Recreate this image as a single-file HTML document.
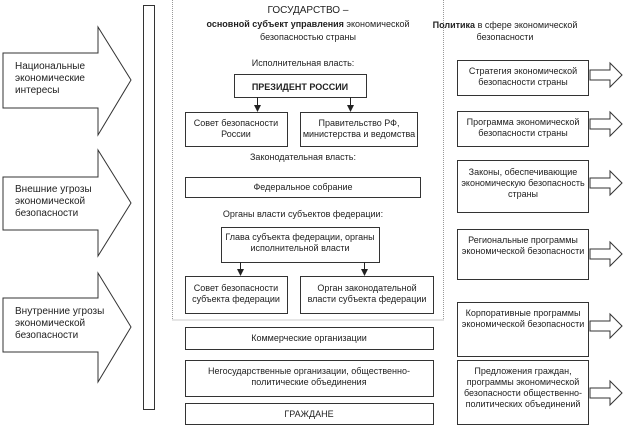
<!DOCTYPE html>
<html><head><meta charset="utf-8"><style>
body{margin:0;background:#fff;width:623px;height:425px;overflow:hidden}
svg{display:block}
text{font-family:"Liberation Sans","DejaVu Sans",sans-serif;font-size:9px;fill:#222}
.l{font-size:10px}
.b{fill:#fff;stroke:#333;stroke-width:1}
</style></head><body>
<svg width="623" height="425" viewBox="0 0 623 425">
<polygon class="b" points="3,53 98,53 98,27 131,80 98,135 98,108 3,108"/>
<polygon class="b" points="3,177 98,177 98,150 131,203 98,256 98,230 3,230"/>
<polygon class="b" points="3,298 98,298 98,273 131,327 98,382 98,352 3,352"/>
<text class="l" x="15" y="69">Национальные</text><text class="l" x="15" y="81">экономические</text><text class="l" x="15" y="93">интересы</text>
<text class="l" x="15" y="192">Внешние угрозы</text><text class="l" x="15" y="204">экономической</text><text class="l" x="15" y="216">безопасности</text>
<text class="l" x="15" y="314">Внутренние угрозы</text><text class="l" x="15" y="326">экономической</text><text class="l" x="15" y="338">безопасности</text>
<rect class="b" x="143.5" y="5.5" width="11" height="404"/>
<rect x="172.5" y="-1" width="271" height="321" fill="none" stroke="#999" stroke-dasharray="1,1"/>
<text class="l" x="308" y="13" text-anchor="middle">ГОСУДАРСТВО –</text>
<text x="308" y="27" text-anchor="middle"><tspan font-weight="bold">основной субъект управления</tspan> экономической</text>
<text x="308" y="40" text-anchor="middle">безопасностью страны</text>
<text x="303" y="66" text-anchor="middle">Исполнительная власть:</text>
<rect class="b" x="234.5" y="74.5" width="132" height="23"/>
<text x="300" y="90" text-anchor="middle" font-weight="bold" font-size="10">ПРЕЗИДЕНТ РОССИИ</text>
<line x1="257.5" y1="97" x2="257.5" y2="106" stroke="#222"/><polygon points="254,105 261,105 257.5,112" fill="#222"/>
<line x1="350.5" y1="97" x2="350.5" y2="106" stroke="#222"/><polygon points="347,105 354,105 350.5,112" fill="#222"/>
<rect class="b" x="185.5" y="112.5" width="102" height="34"/>
<text x="236" y="126" text-anchor="middle">Совет безопасности</text><text x="236" y="137" text-anchor="middle">России</text>
<rect class="b" x="300.5" y="112.5" width="117" height="34"/>
<text x="359" y="126" text-anchor="middle">Правительство РФ,</text><text x="359" y="137" text-anchor="middle">министерства и ведомства</text>
<text x="303" y="160" text-anchor="middle">Законодательная власть:</text>
<rect class="b" x="185.5" y="177.5" width="235" height="20"/>
<text x="303" y="190" text-anchor="middle">Федеральное собрание</text>
<text x="303" y="217" text-anchor="middle">Органы власти субъектов федерации:</text>
<rect class="b" x="221.5" y="227.5" width="158" height="35"/>
<text x="300" y="240" text-anchor="middle">Глава субъекта федерации, органы</text><text x="300" y="251" text-anchor="middle">исполнительной власти</text>
<line x1="240.5" y1="262" x2="240.5" y2="270" stroke="#222"/><polygon points="237,269 244,269 240.5,276" fill="#222"/>
<line x1="364.5" y1="262" x2="364.5" y2="270" stroke="#222"/><polygon points="361,269 368,269 364.5,276" fill="#222"/>
<rect class="b" x="185.5" y="276.5" width="102" height="37"/>
<text x="236" y="291" text-anchor="middle">Совет безопасности</text><text x="236" y="302" text-anchor="middle">субъекта федерации</text>
<rect class="b" x="300.5" y="276.5" width="133" height="37"/>
<text x="367" y="291" text-anchor="middle">Орган законодательной</text><text x="367" y="302" text-anchor="middle">власти субъекта федерации</text>
<rect class="b" x="185.5" y="327.5" width="248" height="22"/>
<text x="309" y="341" text-anchor="middle">Коммерческие организации</text>
<rect class="b" x="185.5" y="360.5" width="248" height="36"/>
<text x="309" y="374" text-anchor="middle">Негосударственные организации, общественно-</text><text x="309" y="385" text-anchor="middle">политические объединения</text>
<rect class="b" x="185.5" y="403.5" width="248" height="21"/>
<text x="309" y="417" text-anchor="middle">ГРАЖДАНЕ</text>
<text x="505" y="28" text-anchor="middle"><tspan font-weight="bold">Политика</tspan> в сфере экономической</text>
<text x="505" y="40" text-anchor="middle">безопасности</text>
<rect class="b" x="457.5" y="60.5" width="131" height="35"/>
<text x="523" y="74" text-anchor="middle">Стратегия экономической</text><text x="523" y="85" text-anchor="middle">безопасности страны</text>
<rect class="b" x="457.5" y="111.5" width="131" height="35"/>
<text x="523" y="125" text-anchor="middle">Программа экономической</text><text x="523" y="136" text-anchor="middle">безопасности страны</text>
<rect class="b" x="457.5" y="160.5" width="131" height="52"/>
<text x="523" y="175" text-anchor="middle">Законы, обеспечивающие</text><text x="523" y="186" text-anchor="middle">экономическую безопасность</text><text x="523" y="197" text-anchor="middle">страны</text>
<rect class="b" x="457.5" y="229.5" width="131" height="50"/>
<text x="523" y="243" text-anchor="middle">Региональные программы</text><text x="523" y="254" text-anchor="middle">экономической безопасности</text>
<rect class="b" x="457.5" y="302.5" width="131" height="54"/>
<text x="523" y="316" text-anchor="middle">Корпоративные программы</text><text x="523" y="327" text-anchor="middle">экономической безопасности</text>
<rect class="b" x="457.5" y="360.5" width="131" height="64"/>
<text x="523" y="374" text-anchor="middle">Предложения граждан,</text><text x="523" y="385" text-anchor="middle">программы экономической</text><text x="523" y="396" text-anchor="middle">безопасности общественно-</text><text x="523" y="407" text-anchor="middle">политических объединений</text>
<polygon class="b" points="590,70 610,70 610,63 622,75 610,87 610,80 590,80"/>
<polygon class="b" points="590,119 610,119 610,112 622,124 610,136 610,129 590,129"/>
<polygon class="b" points="590,178 610,178 610,171 622,183 610,195 610,188 590,188"/>
<polygon class="b" points="590,249 610,249 610,242 622,254 610,266 610,259 590,259"/>
<polygon class="b" points="590,321 610,321 610,314 622,326 610,338 610,331 590,331"/>
<polygon class="b" points="590,388 610,388 610,381 622,393 610,405 610,398 590,398"/>
</svg>
</body></html>
